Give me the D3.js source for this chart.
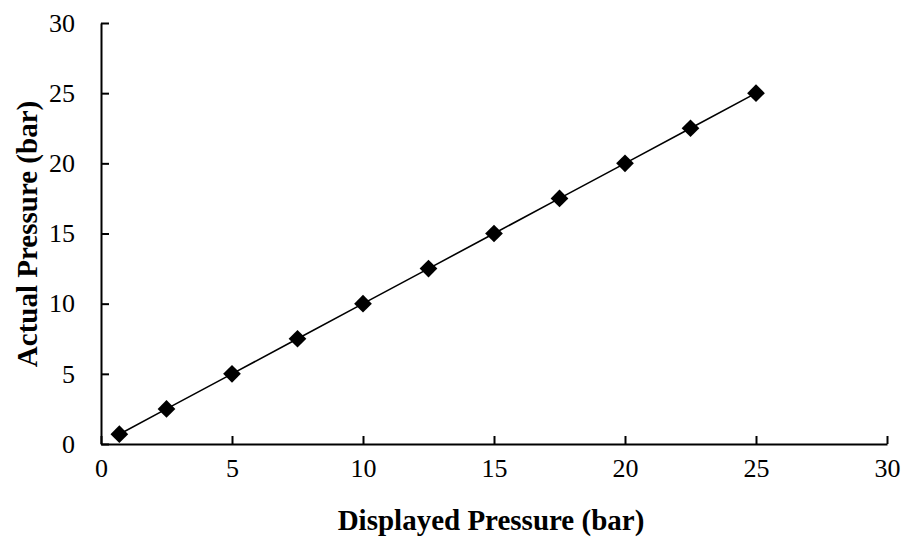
<!DOCTYPE html>
<html>
<head>
<meta charset="utf-8">
<script src="https://cdn.jsdelivr.net/npm/d3@7"></script>
<style>
  html, body { margin: 0; padding: 0; background: #fff; }
  svg { display: block; }
  text { font-family: "Liberation Serif", "Times New Roman", serif; fill: #000; }
</style>
</head>
<body>
<svg id="chart" width="907" height="540"></svg>
<script>
// Displayed vs. actual pressure readings (bar)
const displayed = [0.7, 2.5, 5, 7.5, 10, 12.5, 15, 17.5, 20, 22.5, 25];
const actual    = [0.7, 2.5, 5, 7.5, 10, 12.5, 15, 17.5, 20, 22.5, 25];
const xTicks = [0, 5, 10, 15, 20, 25, 30];
const yTicks = [0, 5, 10, 15, 20, 25, 30];

const svg = d3.select("#chart");
const plotLeft = 101, plotRight = 887, plotTop = 23, plotBottom = 444;

const x = d3.scaleLinear().domain([0, 30]).range([plotLeft, plotRight]);
const y = d3.scaleLinear().domain([0, 30]).range([plotBottom, plotTop]);

// Axes with inward ticks
const xAxis = svg.append("g").attr("transform", `translate(0,${plotBottom})`)
  .call(d3.axisBottom(x).tickValues(xTicks).tickSize(-8).tickSizeOuter(0).tickPadding(15));
const yAxis = svg.append("g").attr("transform", `translate(${plotLeft},0)`)
  .call(d3.axisLeft(y).tickValues(yTicks).tickSize(-8).tickSizeOuter(0).tickPadding(26));

[xAxis, yAxis].forEach(g => {
  g.select(".domain").attr("stroke", "#000").attr("stroke-width", 2);
  g.selectAll(".tick line").attr("stroke", "#000").attr("stroke-width", 2);
  g.selectAll(".tick text").style("font-family", "'Liberation Serif', serif").style("font-size", "26px").attr("fill", "#000");
});

const pts = displayed.map((d, i) => [d, actual[i]]);

svg.append("path")
  .datum(pts)
  .attr("fill", "none")
  .attr("stroke", "#000")
  .attr("stroke-width", 1.6)
  .attr("d", d3.line().x(d => x(d[0])).y(d => y(d[1])));

svg.append("g").selectAll("path")
  .data(pts)
  .join("path")
  .attr("transform", d => `translate(${x(d[0])},${y(d[1])})`)
  .attr("d", d3.symbol(d3.symbolDiamond2, 200)())
  .attr("fill", "#000");

svg.append("text")
  .attr("x", 491)
  .attr("y", 530)
  .attr("text-anchor", "middle")
  .style("font-size", "29px")
  .style("font-weight", "bold")
  .text("Displayed Pressure (bar)");

svg.append("text")
  .attr("transform", "translate(37,234) rotate(-90)")
  .attr("text-anchor", "middle")
  .style("font-size", "29px")
  .style("font-weight", "bold")
  .text("Actual Pressure (bar)");
</script>
</body>
</html>
